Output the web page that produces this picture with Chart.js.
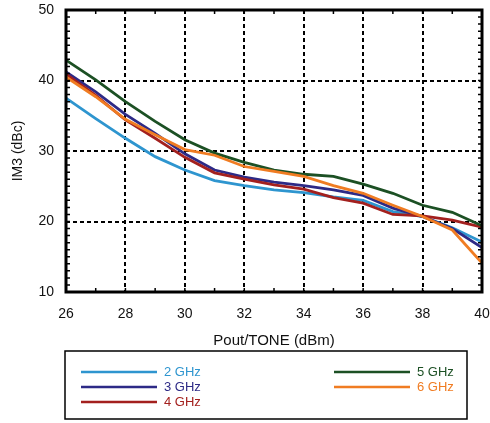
<!DOCTYPE html>
<html>
<head>
<meta charset="utf-8">
<script src="https://cdn.jsdelivr.net/npm/chart.js@4"></script>
<style>
html, body { margin: 0; padding: 0; background: #fff; }
</style>
</head>
<body>
<canvas id="mychart" width="490" height="423"></canvas>
<script>
'use strict'

// x軸: Pout/TONE (dBm)
const pout = [26, 27, 28, 29, 30, 31, 32, 33, 34, 35, 36, 37, 38, 39, 40];

// IM3 (dBc) 周波数ごと
const im3_2GHz = [37.5, 34.6, 31.8, 29.2, 27.3, 25.8, 25.1, 24.5, 24.1, 23.5, 23.0, 21.4, 20.7, 19.1, 17.1];
const im3_3GHz = [41.2, 38.4, 35.2, 32.5, 29.6, 27.3, 26.3, 25.6, 25.1, 24.5, 23.7, 21.9, 20.7, 19.0, 16.3];
const im3_4GHz = [40.9, 37.9, 34.4, 31.8, 29.1, 26.9, 26.0, 25.2, 24.6, 23.4, 22.6, 21.0, 20.8, 20.2, 19.2];
const im3_5GHz = [42.9, 40.1, 37.0, 34.2, 31.6, 29.7, 28.4, 27.3, 26.7, 26.4, 25.3, 24.0, 22.3, 21.3, 19.4];
const im3_6GHz = [40.5, 37.7, 34.5, 32.3, 30.2, 29.4, 27.8, 27.1, 26.4, 25.1, 24.0, 22.3, 20.7, 18.8, 14.1];

const seriesNames = ['2 GHz', '3 GHz', '4 GHz', '5 GHz', '6 GHz'];
const seriesColors = ['#2e95cf', '#2d2a86', '#a3201e', '#1c5024', '#f07c22'];
const seriesValues = [im3_2GHz, im3_3GHz, im3_4GHz, im3_5GHz, im3_6GHz];

const FONT = '"Liberation Sans", Arial, Helvetica, sans-serif';

const toPoints = (vals) => pout.map((x, i) => ({ x: x, y: vals[i] }));

// 枠線と内向きの細かい目盛り
const framePlugin = {
  id: 'frame',
  afterDatasetsDraw(chart) {
    const { ctx, chartArea: a, scales: { x, y } } = chart;
    ctx.save();
    ctx.strokeStyle = '#000';
    ctx.lineWidth = 1.5;
    ctx.beginPath();
    for (let v = x.min; v <= x.max; v++) {
      const px = x.getPixelForValue(v);
      ctx.moveTo(px, a.bottom); ctx.lineTo(px, a.bottom - 4);
      ctx.moveTo(px, a.top); ctx.lineTo(px, a.top + 4);
    }
    for (let v = y.min; v <= y.max; v++) {
      const py = y.getPixelForValue(v);
      ctx.moveTo(a.left, py); ctx.lineTo(a.left + 4, py);
      ctx.moveTo(a.right, py); ctx.lineTo(a.right - 4, py);
    }
    ctx.stroke();
    ctx.lineWidth = 3;
    ctx.strokeRect(a.left, a.top, a.right - a.left, a.bottom - a.top);
    ctx.restore();
  }
};

// 凡例（2列、文字色は線と同じ）
const legendPlugin = {
  id: 'boxLegend',
  afterDraw(chart) {
    const { ctx } = chart;
    const slots = [
      [81, 372], [81, 387], [81, 402],
      [334, 372], [334, 387]
    ];
    ctx.save();
    ctx.strokeStyle = '#000';
    ctx.lineWidth = 1.5;
    ctx.strokeRect(65, 351, 402, 68);
    ctx.font = '13px ' + FONT;
    ctx.textBaseline = 'middle';
    chart.data.datasets.forEach((ds, i) => {
      const [lx, ly] = slots[i];
      ctx.strokeStyle = ds.borderColor;
      ctx.lineWidth = 2.7;
      ctx.beginPath();
      ctx.moveTo(lx, ly); ctx.lineTo(lx + 76, ly);
      ctx.stroke();
      ctx.fillStyle = ds.borderColor;
      ctx.fillText(ds.label, lx + 83, ly + 0.5);
    });
    ctx.restore();
  }
};

const ctx = document.getElementById('mychart');

const myChart = new Chart(ctx, {
  type: 'line',
  data: {
    datasets: seriesNames.map((name, i) => ({
      label: name,
      data: toPoints(seriesValues[i]),
      borderColor: seriesColors[i],
      backgroundColor: seriesColors[i],
      borderWidth: 2.8,
      pointRadius: 0,
      tension: 0,
      fill: false,
      order: seriesNames.length - i,
    })),
  },
  options: {
    responsive: false,
    animation: false,
    events: [],
    layout: { padding: { top: 10, right: 8, bottom: 71, left: 0 } },
    plugins: {
      legend: { display: false },
      tooltip: { enabled: false },
    },
    scales: {
      x: {
        type: 'linear',
        min: 26,
        max: 40,
        afterFit: (s) => { s.height = 60; s.paddingLeft = 0; s.paddingRight = 0; },
        ticks: { stepSize: 2, color: '#111', padding: 14, font: { family: FONT, size: 14 } },
        grid: { color: '#000', lineWidth: 2, drawTicks: false },
        border: { display: false, dash: [4, 3] },
        title: {
          display: true,
          text: 'Pout/TONE (dBm)',
          color: '#111',
          font: { family: FONT, size: 15 },
          padding: { top: 0, bottom: 2 },
        },
      },
      y: {
        min: 10,
        max: 50,
        afterFit: (s) => { s.width = 66; s.paddingTop = 0; s.paddingBottom = 0; },
        ticks: { stepSize: 10, color: '#111', padding: 12, font: { family: FONT, size: 14 } },
        grid: { color: '#000', lineWidth: 2, drawTicks: false },
        border: { display: false, dash: [4, 3] },
        title: {
          display: true,
          text: 'IM3 (dBc)',
          color: '#111',
          font: { family: FONT, size: 14 },
          padding: { top: 10, bottom: 0 },
        },
      },
    },
  },
  plugins: [framePlugin, legendPlugin],
});
</script>
</body>
</html>
